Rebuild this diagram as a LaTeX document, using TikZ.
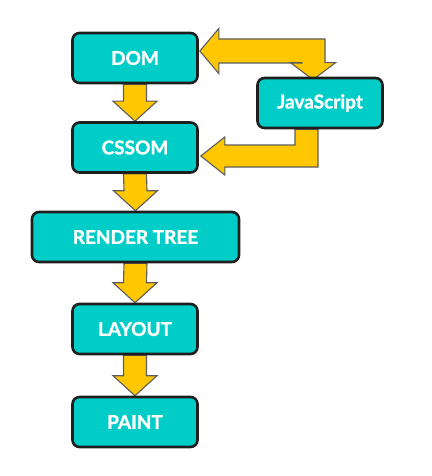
\documentclass[tikz,border=0pt]{standalone}
\usepackage{fontspec}
\setmainfont{Lato}[BoldFeatures={FakeBold=1.2}]
\usepackage{tikz}
\usetikzlibrary{calc,backgrounds}

\definecolor{boxteal}{HTML}{00CDC7}
\definecolor{boxline}{HTML}{1E1E1E}
\definecolor{arrowgold}{HTML}{FFC700}
\definecolor{arrowline}{HTML}{5C5C5C}

\tikzset{
	stage/.style={shape=rectangle, rounded corners=7pt, draw=boxline, line width=2.6pt,
		fill=boxteal, text=white, font=\bfseries\fontsize{19}{19}\selectfont,
		minimum width=125pt, minimum height=50pt, inner sep=0pt},
	blockarrow/.style={fill=arrowgold, draw=arrowline, line width=1.1pt, line join=miter}
}

% block arrow pointing down from #1 to #2
\newcommand{\blockdown}[2]{%
	\draw[blockarrow] ($(#1.south)+(-11.5,0)$) -- ($(#2.north)+(-11.5,-20)$) -- ($(#2.north)+(-22,-20)$)
		-- (#2.north) -- ($(#2.north)+(22,-20)$) -- ($(#2.north)+(11.5,-20)$) -- ($(#1.south)+(11.5,0)$) -- cycle;}

\begin{document}
\begin{tikzpicture}[x=1pt, y=-1pt]

	\useasboundingbox (0,0) rectangle (431,476);

	\node[stage] (DOM) at (135, 58) {DOM};
	\node[stage] (JavaScript) at (320, 103) {JavaScript};
	\node[stage] (CSSOM) at (135, 147.5) {CSSOM};
	\node[stage, minimum width=207pt] (RenderTree) at (135.5, 237) {RENDER TREE};
	\node[stage] (Layout) at (135, 329) {LAYOUT};
	\node[stage] (Paint) at (135, 422) {PAINT};

	\begin{scope}[on background layer]
		\blockdown{DOM}{CSSOM}
		\blockdown{CSSOM}{RenderTree}
		\blockdown{RenderTree}{Layout}
		\blockdown{Layout}{Paint}

		% DOM <-> JavaScript
		\coordinate (TipDOM) at ($(DOM.east)+(1,-7)$);
		\coordinate (TipJS) at ($(JavaScript.north)+(-7,3)$);
		\coordinate (BendTop) at (TipJS |- TipDOM);
		\draw[blockarrow] (TipDOM) -- ($(TipDOM)+(19,-22.5)$) -- ($(TipDOM)+(19,-12)$) -- ($(BendTop)+(12,-12)$)
			-- ($(TipJS)+(12,-17)$) -- ($(TipJS)+(22.5,-17)$) -- (TipJS) -- ($(TipJS)+(-22.5,-17)$)
			-- ($(TipJS)+(-11,-17)$) -- ($(BendTop)+(-11,12)$) -- ($(TipDOM)+(19,12)$) -- ($(TipDOM)+(19,22.5)$) -- cycle;

		% JavaScript -> CSSOM
		\coordinate (StartJS) at ($(JavaScript.south)+(-13.5,0)$);
		\coordinate (TipCSSOM) at ($(CSSOM.east)+(2,8.5)$);
		\coordinate (BendLow) at (StartJS |- TipCSSOM);
		\draw[blockarrow] ($(StartJS)+(-11.5,0)$) -- ($(BendLow)+(-11.5,-11)$) -- ($(TipCSSOM)+(24,-11)$)
			-- ($(TipCSSOM)+(24,-19)$) -- (TipCSSOM) -- ($(TipCSSOM)+(24,19)$) -- ($(TipCSSOM)+(24,11)$)
			-- ($(BendLow)+(11.5,11)$) -- ($(StartJS)+(11.5,0)$) -- cycle;
	\end{scope}

\end{tikzpicture}
\end{document}
